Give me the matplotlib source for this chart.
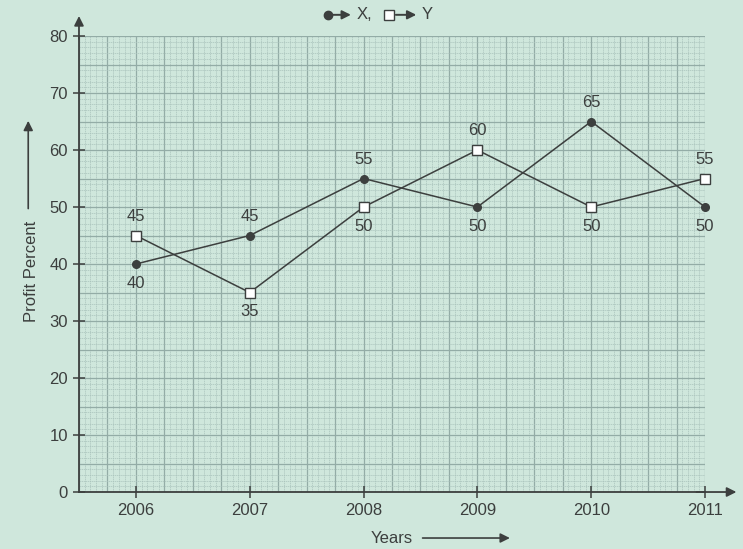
import numpy as np
import matplotlib.pyplot as plt
from matplotlib.lines import Line2D
from matplotlib.ticker import MultipleLocator

# data
years = [2006, 2007, 2008, 2009, 2010, 2011]
x_profit = [40, 45, 55, 50, 65, 50]
y_profit = [45, 35, 50, 60, 50, 55]
# label above (+1) or below (-1) each point
x_pos = [-1, 1, 1, -1, 1, -1]
y_pos = [1, -1, -1, 1, -1, 1]

bg = '#cfe7dc'
ink = '#3c3f3e'
grid_c = '#93aca6'
minor_c = '#a9c2bb'

plt.rcParams['font.family'] = ['Liberation Sans', 'DejaVu Sans']
fs = 12

fig = plt.figure(figsize=(7.43, 5.49), dpi=100, facecolor=bg)
ax = fig.add_axes([0.1063, 0.1038, 0.8426, 0.8306], facecolor=bg)

ax.set_xlim(2005.5, 2011)
ax.set_ylim(0, 80)

# graph-paper grid
ax.xaxis.set_major_locator(MultipleLocator(1))
ax.yaxis.set_major_locator(MultipleLocator(10))
for v in np.arange(2005.5, 2011.001, 0.05):
    major = abs(v * 4 - round(v * 4)) < 1e-6
    ax.axvline(v, color=grid_c if major else minor_c, lw=0.9 if major else 0.5,
               ls='-' if major else (0, (2, 1)), zorder=0)
for v in np.arange(0, 80.001, 1):
    major = v % 5 == 0
    ax.axhline(v, color=grid_c if major else minor_c, lw=0.9 if major else 0.5,
               ls='-' if major else (0, (2, 1)), zorder=0)

ax.plot(years, x_profit, color=ink, lw=1.1, marker='o', ms=5.5,
        mfc=ink, mec=ink, zorder=3, clip_on=False)
ax.plot(years, y_profit, color=ink, lw=1.1, marker='s', ms=6.5,
        mfc='white', mec=ink, mew=1.0, zorder=3, clip_on=False)

for yr, v, p in zip(years, x_profit, x_pos):
    ax.annotate(str(v), (yr, v), xytext=(0, 14 * p), textcoords='offset points',
                ha='center', va='center', fontsize=fs, color=ink)
for yr, v, p in zip(years, y_profit, y_pos):
    ax.annotate(str(v), (yr, v), xytext=(0, 14 * p), textcoords='offset points',
                ha='center', va='center', fontsize=fs, color=ink)

for s in ['top', 'right']:
    ax.spines[s].set_visible(False)
for s in ['left', 'bottom']:
    ax.spines[s].set_color(ink)
    ax.spines[s].set_linewidth(1.3)

ax.tick_params(axis='both', colors=ink, labelcolor=ink, labelsize=fs,
               direction='inout', length=8, width=1.1)
ax.tick_params(axis='x', pad=4)
ax.tick_params(axis='y', pad=4)

# axis arrows
ax.annotate('', xy=(2011.3, 0), xytext=(2010.9, 0), xycoords='data',
            arrowprops=dict(arrowstyle='-|>', color=ink, lw=1.3, mutation_scale=14),
            annotation_clip=False)
ax.annotate('', xy=(2005.5, 84), xytext=(2005.5, 79), xycoords='data',
            arrowprops=dict(arrowstyle='-|>', color=ink, lw=1.3, mutation_scale=14),
            annotation_clip=False)

# axis labels with arrows
fig.text(0.043, 0.505, 'Profit Percent', rotation=90, ha='center', va='center',
         fontsize=fs, color=ink)
fig.add_artist(plt.Annotation('', xy=(0.038, 0.785), xytext=(0.038, 0.615),
                              xycoords='figure fraction',
                              arrowprops=dict(arrowstyle='-|>', color=ink, lw=1.2,
                                              mutation_scale=14)))
fig.text(0.527, 0.02, 'Years', ha='center', va='center', fontsize=fs, color=ink)
fig.add_artist(plt.Annotation('', xy=(0.69, 0.02), xytext=(0.565, 0.02),
                              xycoords='figure fraction',
                              arrowprops=dict(arrowstyle='-|>', color=ink, lw=1.2,
                                              mutation_scale=14)))

# legend "●→ X,  □→ Y"
ly = 0.973
fig.add_artist(Line2D([0.441], [ly], marker='o', ms=6, color=ink,
                      transform=fig.transFigure))
fig.add_artist(plt.Annotation('', xy=(0.476, ly), xytext=(0.443, ly),
                              xycoords='figure fraction',
                              arrowprops=dict(arrowstyle='-|>', color=ink, lw=1.4,
                                              mutation_scale=13)))
fig.text(0.480, ly, 'X,', ha='left', va='center', fontsize=fs, color=ink)
fig.add_artist(Line2D([0.523], [ly], marker='s', ms=6.5, mfc='white', mec=ink,
                      color=ink, transform=fig.transFigure))
fig.add_artist(plt.Annotation('', xy=(0.564, ly), xytext=(0.529, ly),
                              xycoords='figure fraction',
                              arrowprops=dict(arrowstyle='-|>', color=ink, lw=1.4,
                                              mutation_scale=13)))
fig.text(0.567, ly, 'Y', ha='left', va='center', fontsize=fs, color=ink)

fig.savefig('out.png', dpi=100, facecolor=bg)
